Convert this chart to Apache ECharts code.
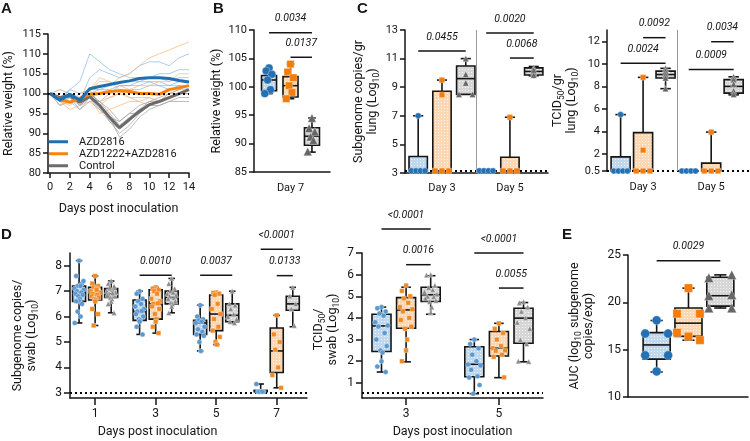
<!DOCTYPE html>
<html><head><meta charset="utf-8">
<script src="https://cdn.jsdelivr.net/npm/echarts@6/dist/echarts.min.js"></script>
<style>html,body{margin:0;padding:0;background:#fff}#c{width:750px;height:441px}</style>
</head><body><div id="c"></div>
<script>
// ================= DATA =================
// Panel A: relative weight (%) per day
const days = [0,1,2,3,4,5,6,7,8,9,10,11,12,13,14];
const meanAZD2816 = [100, 98.3, 99.8, 98.3, 101.2, 101.8, 102.3, 102.8, 103.2, 103.8, 104, 104, 103.8, 103.3, 102.9];
const meanCombo   = [100, 98.5, 97.8, 98.8, 99.8, 100, 100.5, 100.7, 100.5, 100, 100, 99.8, 101, 101.5, 102];
const meanControl = [100, 99, 99.5, 97.8, 99.3, 97, 94, 91.4, 93.5, 95.5, 97.2, 98, 99, 100, 101];
const indivAZD2816 = [
  [100, 99, 101, 103, 110, 108, 106, 105, 104, 104, 104, 105, 105, 106, 106],
  [100, 97, 99, 98, 104, 106, 105, 104, 105, 107, 108, 108, 107, 109, 110],
  [100, 98, 100, 97, 100, 101, 101, 102, 102, 103, 103, 102, 102, 103, 103],
  [100, 97, 98, 96, 99, 100, 100, 101, 101, 101, 102, 102, 101, 102, 102],
  [100, 98, 101, 100, 101, 101, 102, 103, 103, 103, 104, 104, 103, 104, 104],
  [100, 99, 100, 98, 100, 98, 100, 102, 102, 102, 103, 103, 102, 102, 101]
];
const indivCombo = [
  [100, 99, 98, 99, 101, 102, 102, 104, 105, 107, 109, 110, 111, 112, 113],
  [100, 98, 96, 97, 98, 98, 99, 100, 101, 102, 102, 103, 103, 105, 105],
  [100, 98, 97, 99, 100, 97, 99, 100, 99, 98, 99, 98, 100, 101, 101],
  [100, 99, 98, 98, 99, 95, 96, 97, 98, 98, 97, 98, 99, 100, 100],
  [100, 98, 98, 100, 101, 103, 103, 102, 101, 100, 100, 100, 101, 101, 102],
  [100, 97, 98, 98, 101, 104, 103, 101, 99, 99, 99, 98, 100, 100, 100]
];
const indivControl = [
  [100, 101, 100, 99, 99, 98, 96, 93, 95, 97, 98, 98, 99, 100, 101],
  [100, 99, 99, 96, 98, 96, 93, 90, 92, 95, 97, 98, 99, 100, 100],
  [100, 98, 100, 97, 99, 97, 93, 91, 93, 96, 98, 99, 100, 101, 102],
  [100, 99, 100, 98, 101, 97, 94, 89, 91, 94, 96, 97, 98, 99, 99],
  [100, 99, 99, 98, 100, 98, 95, 92, 94, 96, 97, 98, 99, 100, 101],
  [100, 98, 99, 97, 99, 96, 94, 93, 95, 95, 97, 97, 98, 98, 98]
];
const legendNames = ['AZD2816', 'AZD1222+AZD2816', 'Control'];
const tickDaysA = [0,2,4,6,8,10,12,14];

// Panel B: relative weight day 7 ; box stats = [min, q1, median, q3, max]
const catB = ['Day 7'];
const boxB = [[98.8, 99.3, 101.2, 102.0, 103.4], [97.9, 98.2, 100.2, 101.8, 104.0], [88.5, 89.7, 91.3, 92.8, 94.5]];
const dotsB = [[103.3, 102.8, 102.2, 101.2, 99.5, 98.8], [104.0, 102.6, 101.6, 100.2, 99.0, 97.9], [94.5, 92.7, 92.1, 91.2, 90.6, 88.6]];

// Panel C: lung (per day: [AZD2816, combo, control])
const catC = ['Day 3', 'Day 5'];
const boxCLung = [
  [[3.15,3.15,3.15,4.15,7.0], [3.15,3.15,3.15,8.72,9.5], [8.5,8.5,9.6,10.48,11.0]],
  [[3.15,3.15,3.15,3.15,3.15], [3.15,3.15,3.15,4.1,6.9], [9.8,9.85,10.1,10.35,10.45]]
];
const dotsCLung = [
  [[3.15,3.15,3.15,3.15,7.0], [3.15,3.15,3.15,8.47,9.5], [8.5,8.5,9.3,9.9,11.0]],
  [[3.15,3.15,3.15,3.15], [3.15,3.15,3.15,6.9], [10.35,10.1,10.0,9.85,10.2]]
];
const lodCLung = 3.15;
const ticksCLung = [3,5,7,9,11,13];
const boxCTcid = [
  [[0.5,0.5,0.5,1.75,5.5], [0.5,0.5,0.5,3.9,8.8], [7.8,8.75,9.05,9.35,9.6]],
  [[0.5,0.5,0.5,0.5,0.5], [0.5,0.5,0.5,1.2,3.95], [7.25,7.4,8.0,8.6,8.85]]
];
const dotsCTcid = [
  [[0.5,0.5,0.5,0.5,5.5], [0.5,0.5,0.5,2.35,8.8], [9.6,9.35,9.05,8.75,7.8]],
  [[0.5,0.5,0.5,0.5], [0.5,0.5,0.5,3.95], [8.85,8.6,8.2,7.6,7.3]]
];
const lodCTcid = 0.5;
const ticksCTcid = [0.5,2,4,6,8,10,12];

// Panel D: swabs
const daysDSwab = [1,3,5,7];
const boxDSwab = [
  [[5.75,6.6,6.95,7.2,8.2], [5.65,6.65,6.9,7.15,7.6], [6.15,6.75,6.9,7.1,7.4]],
  [[5.3,5.85,6.2,6.65,7.0], [5.35,5.9,6.5,7.05,7.15], [6.15,6.5,6.75,7.0,7.5]],
  [[4.65,5.3,5.75,5.85,6.45], [4.9,5.45,6.1,6.85,6.95], [5.75,5.8,6.05,6.5,7.0]],
  [[3.05,3.05,3.05,3.1,3.35], [3.2,3.8,4.65,5.55,6.05], [5.6,6.25,6.5,6.8,7.15]]
];
const dotsDSwab = [
  [[8.2,7.6,7.3,7.2,7.2,7.1,7.05,7.0,6.95,6.9,6.85,6.8,6.7,6.6,6.6,6.5,6.2,6.0,5.75,7.4],
   [7.6,7.3,7.2,7.15,7.1,7.0,6.95,6.9,6.85,6.8,6.75,6.7,6.65,6.6,6.3,6.1,5.65,7.05],
   [7.4,7.3,7.2,7.1,7.05,7.0,6.95,6.9,6.88,6.85,6.8,6.75,6.7,6.6,6.5,6.15,7.15,6.93]],
  [[7.0,6.9,6.7,6.6,6.5,6.4,6.3,6.2,6.22,6.1,6.0,5.9,5.85,5.8,5.6,5.3],
   [7.15,7.1,7.05,7.0,6.9,6.7,6.6,6.5,6.52,6.4,6.3,6.1,5.9,5.8,5.6,5.35],
   [7.5,7.3,7.1,7.0,6.95,6.9,6.85,6.8,6.75,6.7,6.6,6.55,6.5,6.4,6.15]],
  [[6.45,6.0,5.9,5.85,5.8,5.75,5.6,5.5,5.4,5.3,5.25,5.0,4.65],
   [6.95,6.93,6.9,6.85,6.5,6.3,6.1,5.9,5.6,5.45,5.2,5.0,4.9],
   [7.0,6.5,6.45,6.3,6.1,6.0,5.9,5.8,5.75]],
  [[3.05,3.05,3.05,3.05,3.05,3.35],
   [6.05,5.3,5.0,4.7,4.0,3.7,3.2],
   [7.15,6.8,6.5,6.3,5.65]]
];
const lodDSwab = 3.02;
const ticksDSwabY = [3,4,5,6,7,8];
const daysDTcid = [3,5];
const boxDTcid = [
  [[1.5,2.45,3.63,4.17,4.5], [1.97,3.52,4.37,4.94,5.42], [4.17,4.76,5.07,5.42,5.95]],
  [[0.5,1.28,1.86,2.67,3.0], [1.24,2.24,2.6,3.37,3.75], [1.97,2.83,3.99,4.45,4.71]]
];
const dotsDTcid = [
  [[4.5,4.45,4.3,4.2,4.1,3.8,3.65,3.6,3.3,3.0,2.7,2.5,2.4,2.0,1.75,1.5],
   [5.5,5.25,5.0,4.9,4.7,4.5,4.4,4.3,4.0,3.9,3.6,3.5,3.0,2.5,2.0],
   [6.0,5.98,5.5,5.4,5.3,5.2,5.1,5.0,4.98,4.9,4.8,4.75,4.5,4.25]],
  [[3.0,2.8,2.6,2.3,2.0,1.85,1.8,1.6,1.3,1.25,0.9,0.5],
   [3.75,3.5,3.3,3.0,2.7,2.6,2.5,2.48,2.3,2.2,1.25],
   [4.75,4.7,4.5,4.3,4.0,3.8,3.5,3.0,2.8,2.0,1.98]]
];
const lodDTcid = 0.53;
const ticksDTcidY = [1,2,3,4,5,6,7];

// Panel E: AUC
const boxE = [[12.64,14.0,15.5,16.8,18.08], [16.0,16.4,17.8,19.4,21.5], [19.4,19.6,20.7,22.65,22.9]];
const dotsE = [[18.1,16.7,16.7,14.4,14.4,12.7], [21.5,18.8,18.8,16.8,16.4,16.0], [22.6,22.9,20.7,20.8,19.4,19.4]];

// Significance annotations: [group, fromArm, toArm, yValue, label]
const sigB = [[0,0,2,109.5,'0.0034'], [0,1,2,105.2,'0.0137']];
const sigCLung = [[0,0,2,11.53,'0.0455'], [1,0,2,12.79,'0.0020'], [1,1,2,11.04,'0.0068']];
const sigCTcid = [[0,1,2,12.32,'0.0092'], [0,0,2,10.05,'0.0024'], [1,1,2,11.96,'0.0034'], [1,0,2,9.5,'0.0009']];
const sigDSwab = [[1,0,2,7.63,'0.0010'], [2,0,2,7.63,'0.0037'], [3,0,2,8.65,'<0.0001'], [3,1,2,7.61,'0.0133']];
const sigDTcid = [[0,0,2,8.11,'<0.0001'], [0,1,2,6.46,'0.0016'], [1,0,2,7.0,'<0.0001'], [1,1,2,5.38,'0.0055']];
const sigE = [[0,0,2,24.4,'0.0029']];

// ================= STYLE / LAYOUT =================
const FONT = 'Roboto, "Liberation Sans", sans-serif';
const INK = '#151515';
const LINE_COL = ['#1f6fb2', '#f7830f', '#6b6b6b'];
const THIN_COL = ['rgba(120,172,222,0.6)', 'rgba(250,175,110,0.65)', 'rgba(155,155,155,0.65)'];
const DOT_COL_D = ['#5a98d0', '#f08a24', '#8a8a8a'];
const DOT_COL = ['#2370b3', '#f27c0c', '#666666'];
const SYMB = ['circle', 'rect', 'triangle'];

function makePattern(base) {
  const c = document.createElement('canvas');
  c.width = 3; c.height = 3;
  const g = c.getContext('2d');
  g.fillStyle = base; g.fillRect(0,0,3,3);
  g.fillStyle = 'rgba(255,255,255,0.75)'; g.fillRect(0,0,1,1);
  return {image: c, repeat: 'repeat'};
}
const FILL = [makePattern('#bfd8ee'), makePattern('#fcd7b4'), makePattern('#d6d6d6')];

const chart = echarts.init(document.getElementById('c'), null, {renderer: 'canvas', width: 750, height: 441});

const grids = [
  {left: 48, top: 34, width: 141, height: 139},   // A
  {left: 254, top: 30, width: 76, height: 142},   // B
  {left: 405, top: 30, width: 143, height: 143},  // C lung
  {left: 607, top: 30, width: 143, height: 141},  // C tcid
  {left: 70, top: 253, width: 237, height: 145},  // D swab
  {left: 362, top: 253, width: 181, height: 145}, // D tcid
  {left: 628, top: 255, width: 120, height: 142}  // E
];

const axLine = {show: true, onZero: false, lineStyle: {color: INK, width: 1.5}};
const tickStyle = {color: INK, width: 1.5};
function labelStyle(extra) { return Object.assign({color: INK, fontFamily: FONT, fontSize: 11}, extra || {}); }
const nameStyle = (extra) => Object.assign({color: INK, fontFamily: FONT, fontSize: 12.5, lineHeight: 13}, extra || {});
const richName = {
  t: {fontFamily: FONT, fontSize: 12.5, color: INK, verticalAlign: 'top', lineHeight: 14},
  s: {fontFamily: FONT, fontSize: 8.5, color: INK, verticalAlign: 'top', padding: [6, 0, 0, 0], lineHeight: 14}
};

const xAxes = [
  {gridIndex: 0, type: 'value', min: -0.2, max: 14, axisLine: axLine,
   axisTick: {show: true, length: 5, lineStyle: tickStyle, customValues: tickDaysA},
   axisLabel: labelStyle({customValues: tickDaysA, margin: 9}), splitLine: {show: false},
   name: 'Days post inoculation', nameLocation: 'middle', nameGap: 29, nameTextStyle: nameStyle()},
  {gridIndex: 1, type: 'value', min: 0.3, max: 3.84, axisLine: axLine, axisTick: {show: false},
   axisLabel: labelStyle({customValues: [2], formatter: () => catB[0], margin: 11}), splitLine: {show: false}},
  {gridIndex: 2, type: 'value', min: -0.544, max: 1.56, axisLine: axLine, axisTick: {show: false},
   axisLabel: labelStyle({customValues: [0, 1], formatter: v => catC[Math.round(v)], margin: 10}), splitLine: {show: false}},
  {gridIndex: 3, type: 'value', min: -0.53, max: 1.57, axisLine: {show: false}, axisTick: {show: false},
   axisLabel: labelStyle({customValues: [0, 1], formatter: v => catC[Math.round(v)], margin: 11}), splitLine: {show: false}},
  {gridIndex: 4, type: 'value', min: 0.17, max: 8.0, axisLine: axLine,
   axisTick: {show: true, length: 7, lineStyle: tickStyle, customValues: daysDSwab},
   axisLabel: labelStyle({customValues: daysDSwab, margin: 10, fontSize: 12}), splitLine: {show: false},
   name: 'Days post inoculation', nameLocation: 'middle', nameGap: 27, nameTextStyle: nameStyle({padding: [0, 62, 0, 0]})},
  {gridIndex: 5, type: 'value', min: 2.05, max: 5.95, axisLine: axLine,
   axisTick: {show: true, length: 7, lineStyle: tickStyle, customValues: daysDTcid},
   axisLabel: labelStyle({customValues: daysDTcid, margin: 10, fontSize: 12}), splitLine: {show: false},
   name: 'Days post inoculation', nameLocation: 'middle', nameGap: 27, nameTextStyle: nameStyle()},
  {gridIndex: 6, type: 'value', min: 0.1, max: 3.87, axisLine: axLine, axisTick: {show: false},
   axisLabel: {show: false}, splitLine: {show: false}}
];

function yAx(gi, min, max, extra) {
  return Object.assign({gridIndex: gi, type: 'value', min, max, axisLine: axLine,
    axisTick: {show: true, length: 5, lineStyle: tickStyle}, splitLine: {show: false},
    nameLocation: 'middle', nameRotate: 90}, extra);
}
const yAxes = [
  yAx(0, 80, 115, {interval: 5, axisLabel: labelStyle({margin: 7}), name: 'Relative weight (%)', nameGap: 33, nameTextStyle: nameStyle()}),
  yAx(1, 85, 110, {interval: 5, axisLabel: labelStyle({margin: 7}), name: 'Relative weight (%)', nameGap: 31, nameTextStyle: nameStyle()}),
  yAx(2, 3, 13, {axisTick: {show: true, length: 5, lineStyle: tickStyle, customValues: ticksCLung},
    axisLabel: labelStyle({customValues: ticksCLung, margin: 7}),
    name: '{t|Subgenome copies/gr}\n{t|lung (Log}{s|10}{t|)}', nameGap: 21, nameTextStyle: {rich: richName, align: 'center'}}),
  yAx(3, 0.5, 13, {axisTick: {show: true, length: 5, lineStyle: tickStyle, customValues: ticksCTcid},
    axisLabel: labelStyle({customValues: ticksCTcid, margin: 7}),
    name: '{t|TCID}{s|50}{t|/gr}\n{t|lung (Log}{s|10}{t|)}', nameGap: 25, nameTextStyle: {rich: richName, align: 'center'}}),
  yAx(4, 2.8, 8.5, {axisTick: {show: true, length: 6, lineStyle: tickStyle, customValues: ticksDSwabY},
    axisLabel: labelStyle({customValues: ticksDSwabY, margin: 8, fontSize: 12}),
    name: '{t|Subgenome copies/}\n{t|swab (Log}{s|10}{t|)}', nameGap: 31, nameTextStyle: {rich: richName, align: 'center', padding: [0, 20, 0, 0]}}),
  yAx(5, 0.3, 7, {axisTick: {show: true, length: 6, lineStyle: tickStyle, customValues: ticksDTcidY},
    axisLabel: labelStyle({customValues: ticksDTcidY, margin: 8, fontSize: 12}),
    name: '{t|TCID}{s|50}{t|/}\n{t|swab (Log}{s|10}{t|)}', nameGap: 22, nameTextStyle: {rich: richName, align: 'center', padding: [0, 8, 0, 0]}}),
  yAx(6, 10, 25, {interval: 5, axisLabel: labelStyle({margin: 7, fontSize: 12}),
    name: '{t|AUC (log}{s|10}{t| subgenome}\n{t|copies/exp)}', nameGap: 32, nameTextStyle: {rich: richName, align: 'center'}})
];

// ---------- helpers ----------
function jitter(vals, spread, eps, uniqueZero) {
  const pat = [0, -0.6, 0.6, -0.3, 0.3, -0.9, 0.9, -0.45, 0.45, -0.75, 0.75, -0.15, 0.15];
  return vals.map((v, i) => {
    if (eps > 0) {
      const same = [];
      vals.forEach((u, j) => { if (Math.abs(u - v) <= eps) same.push(j); });
      if (same.length > 1) {
        const r = same.indexOf(i), n = same.length;
        return spread * (2 * r / (n - 1) - 1);
      }
      if (uniqueZero) return 0;
    }
    return spread * pat[i % pat.length];
  });
}

function boxSeries(gi, rows, w, capFrac) {
  // rows: [x, min, q1, med, q3, max, arm]
  return {
    type: 'custom', xAxisIndex: gi, yAxisIndex: gi, z: 3, silent: true, clip: false,
    data: rows,
    renderItem(params, api) {
      const x = api.value(0), mn = api.value(1), q1 = api.value(2), md = api.value(3), q3 = api.value(4), mx = api.value(5), arm = api.value(6);
      const L = api.coord([x - w / 2, q3]), R = api.coord([x + w / 2, q1]);
      const pMin = api.coord([x, mn]), pMax = api.coord([x, mx]), pMed = api.coord([x, md]);
      const cap = (R[0] - L[0]) * capFrac / 2, cx = pMin[0];
      const ls = {stroke: INK, lineWidth: 1.6};
      const ch = [];
      if (pMax[1] < L[1] - 0.5) {
        ch.push({type: 'line', shape: {x1: cx, y1: pMax[1], x2: cx, y2: L[1]}, style: ls});
        ch.push({type: 'line', shape: {x1: cx - cap, y1: pMax[1], x2: cx + cap, y2: pMax[1]}, style: ls});
      }
      if (pMin[1] > R[1] + 0.5) {
        ch.push({type: 'line', shape: {x1: cx, y1: R[1], x2: cx, y2: pMin[1]}, style: ls});
        ch.push({type: 'line', shape: {x1: cx - cap, y1: pMin[1], x2: cx + cap, y2: pMin[1]}, style: ls});
      }
      ch.push({type: 'rect', shape: {x: L[0], y: L[1], width: R[0] - L[0], height: Math.max(R[1] - L[1], 0.01)},
               style: {fill: FILL[arm], stroke: INK, lineWidth: 1.6}});
      ch.push({type: 'line', shape: {x1: L[0], y1: pMed[1], x2: R[0], y2: pMed[1]}, style: ls});
      return {type: 'group', children: ch};
    }
  };
}

function dotSeries(gi, x, vals, arm, size, spread, eps, uniqueZero, colors) {
  const off = jitter(vals, spread, eps, uniqueZero);
  return {
    type: 'scatter', xAxisIndex: gi, yAxisIndex: gi, z: 5, silent: true,
    symbol: SYMB[arm], symbolSize: arm === 1 ? size * 0.92 : (arm === 2 ? size * 1.05 : size),
    itemStyle: {color: colors[arm], borderColor: 'rgba(255,255,255,0.55)', borderWidth: 0.6, opacity: 1},
    data: vals.map((v, i) => [x + off[i], v])
  };
}

function sigSeries(gi, items, xOf) {
  return {
    type: 'custom', xAxisIndex: gi, yAxisIndex: gi, z: 6, silent: true, clip: false,
    data: items.map(s => [xOf(s[0], s[1]), s[3], xOf(s[0], s[2])]),
    renderItem(params, api) {
      const a = api.coord([api.value(0), api.value(1)]);
      const b = api.coord([api.value(2), api.value(1)]);
      const t = items[params.dataIndex][4];
      return {type: 'group', children: [
        {type: 'line', shape: {x1: a[0], y1: a[1], x2: b[0], y2: b[1]}, style: {stroke: INK, lineWidth: 1.5}},
        {type: 'text', style: {text: t, x: (a[0] + b[0]) / 2, y: a[1] - 14, align: 'center', verticalAlign: 'middle',
          font: 'italic 10.5px Roboto, "Liberation Sans", sans-serif', fill: INK}}
      ]};
    }
  };
}

function markH(y, color, width, type) {
  return {silent: true, symbol: 'none', animation: false, label: {show: false},
    lineStyle: {color, width, type}, data: [{yAxis: y}]};
}

const series = [];

// ---------- Panel A ----------
[indivAZD2816, indivCombo, indivControl].forEach((grp, arm) => {
  grp.forEach(arr => series.push({
    type: 'line', xAxisIndex: 0, yAxisIndex: 0, showSymbol: false, silent: true, z: 2,
    lineStyle: {color: THIN_COL[arm], width: 1}, itemStyle: {color: THIN_COL[arm]},
    data: days.map((d, i) => [d, arr[i]])
  }));
});
[meanControl, meanCombo, meanAZD2816].forEach((arr, k) => {
  const arm = 2 - k;
  series.push({
    type: 'line', name: legendNames[arm], xAxisIndex: 0, yAxisIndex: 0, showSymbol: false, silent: true, z: 3 + k,
    lineStyle: {color: LINE_COL[arm], width: 3}, itemStyle: {color: LINE_COL[arm]},
    data: days.map((d, i) => [d, arr[i]]),
    markLine: k === 2 ? markH(100, '#000', 2, [2, 3]) : undefined
  });
});

// ---------- Panel B ----------
const xB = (g, arm) => 1 + arm;
series.push(boxSeries(1, boxB.map((s, arm) => [xB(0, arm), ...s, arm]), 0.7, 0.5));
dotsB.forEach((vals, arm) => series.push(dotSeries(1, xB(0, arm), vals, arm, 8, 0.22, 0, false, DOT_COL)));
series.push(sigSeries(1, sigB, xB));

// ---------- Panel C ----------
const xCL = (g, arm) => g + (arm - 1) * 0.35;
const rowsCL = [];
boxCLung.forEach((grp, g) => grp.forEach((s, arm) => rowsCL.push([xCL(g, arm), ...s, arm])));
series.push(boxSeries(2, rowsCL, 0.27, 0.55));
dotsCLung.forEach((grp, g) => grp.forEach((vals, arm) => series.push(dotSeries(2, xCL(g, arm), vals, arm, 6, 0.1, 0.05, true, DOT_COL))));
series.push(sigSeries(2, sigCLung, xCL));
series.push({type: 'scatter', xAxisIndex: 2, yAxisIndex: 2, data: [], silent: true,
  markLine: {silent: true, symbol: 'none', label: {show: false}, animation: false,
    data: [{yAxis: lodCLung, lineStyle: {color: '#000', width: 2, type: [2, 3]}}, {xAxis: 0.5, lineStyle: {color: '#999', width: 1, type: 'solid'}}]}});

const xCT = (g, arm) => g + (arm - 1) * 0.33;
const rowsCT = [];
boxCTcid.forEach((grp, g) => grp.forEach((s, arm) => rowsCT.push([xCT(g, arm), ...s, arm])));
series.push(boxSeries(3, rowsCT, 0.28, 0.55));
dotsCTcid.forEach((grp, g) => grp.forEach((vals, arm) => series.push(dotSeries(3, xCT(g, arm), vals, arm, 6, 0.1, 0.05, true, DOT_COL))));
series.push(sigSeries(3, sigCTcid, xCT));
series.push({type: 'scatter', xAxisIndex: 3, yAxisIndex: 3, data: [], silent: true,
  markLine: {silent: true, symbol: 'none', label: {show: false}, animation: false,
    data: [{yAxis: lodCTcid, lineStyle: {color: '#000', width: 2, type: [2, 3]}}, {xAxis: 0.5, lineStyle: {color: '#999', width: 1, type: 'solid'}}]}});

// ---------- Panel D ----------
const xDS = (g, arm) => daysDSwab[g] + (arm - 1) * 0.53;
const rowsDS = [];
boxDSwab.forEach((grp, g) => grp.forEach((s, arm) => rowsDS.push([xDS(g, arm), ...s, arm])));
series.push(boxSeries(4, rowsDS, 0.43, 0.5));
dotsDSwab.forEach((grp, g) => grp.forEach((vals, arm) => series.push(dotSeries(4, xDS(g, arm), vals, arm, 5, 0.16, 0, false, DOT_COL_D))));
series.push(sigSeries(4, sigDSwab, xDS));
series.push({type: 'scatter', xAxisIndex: 4, yAxisIndex: 4, data: [], silent: true, markLine: markH(lodDSwab, '#000', 2, [2, 3])});

const xDT = (g, arm) => daysDTcid[g] + (arm - 1) * 0.53;
const rowsDT = [];
boxDTcid.forEach((grp, g) => grp.forEach((s, arm) => rowsDT.push([xDT(g, arm), ...s, arm])));
series.push(boxSeries(5, rowsDT, 0.41, 0.5));
dotsDTcid.forEach((grp, g) => grp.forEach((vals, arm) => series.push(dotSeries(5, xDT(g, arm), vals, arm, 5, 0.15, 0, false, DOT_COL_D))));
series.push(sigSeries(5, sigDTcid, xDT));
series.push({type: 'scatter', xAxisIndex: 5, yAxisIndex: 5, data: [], silent: true, markLine: markH(lodDTcid, '#000', 2, [2, 3])});

// ---------- Panel E ----------
const xE = (g, arm) => 1 + arm;
series.push(boxSeries(6, boxE.map((s, arm) => [xE(0, arm), ...s, arm]), 0.85, 0.45));
dotsE.forEach((vals, arm) => series.push(dotSeries(6, xE(0, arm), vals, arm, 9, 0.36, 0.45, true, DOT_COL)));
series.push(sigSeries(6, sigE, xE));

const letter = (t, x, y) => ({type: 'text', left: x, top: y, style: {text: t, font: 'bold 15px "Liberation Sans", Arial, sans-serif', fill: INK}});

chart.setOption({
  animation: false,
  backgroundColor: '#fff',
  textStyle: {fontFamily: FONT},
  grid: grids,
  xAxis: xAxes,
  yAxis: yAxes,
  legend: {
    data: legendNames, orient: 'vertical', left: 49, top: 136, padding: 0, itemWidth: 19, itemHeight: 3, itemGap: 0.5,
    icon: 'rect', selectedMode: false,
    textStyle: {fontFamily: FONT, fontSize: 11, color: INK, lineHeight: 11.5, padding: [0, 0, 0, 6]}
  },
  graphic: [letter('A', 1, 1), letter('B', 213, 1), letter('C', 357, 1), letter('D', 1, 227), letter('E', 562, 227)],
  series
});
</script>
</body></html>
